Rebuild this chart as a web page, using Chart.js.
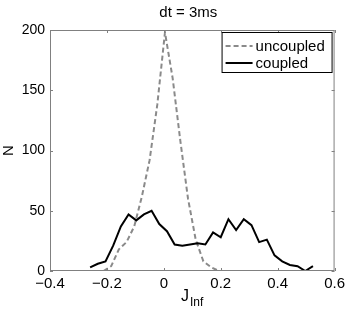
<!DOCTYPE html>
<html>
<head>
<meta charset="utf-8">
<script src="https://cdn.jsdelivr.net/npm/chart.js@4"></script>
<style>
html, body { margin: 0; padding: 0; background: #fff; }
#wrap { width: 349px; height: 312px; }
</style>
</head>
<body>
<div id="wrap"><canvas id="chart" width="349" height="312"></canvas></div>
<script>
// data
const titleText = 'dt = 3ms';
const seriesNames = ['uncoupled', 'coupled'];
const xTicks = [-0.4, -0.2, 0, 0.2, 0.4, 0.6];
const yTicks = [0, 50, 100, 150, 200];

const uncoupledJ = [-0.212, -0.185, -0.158, -0.131, -0.104, -0.077, -0.050, -0.023, 0.004,
                    0.031, 0.058, 0.085, 0.112, 0.139, 0.167, 0.194, 0.221];
const uncoupledN = [0, 4, 18, 24, 37, 62, 92, 138, 198, 160, 108, 60, 26, 8, 3, 0, 0];

const coupledJ = [-0.259, -0.232, -0.205, -0.178, -0.151, -0.124, -0.097, -0.070, -0.043, -0.016,
                  0.011, 0.038, 0.065, 0.092, 0.119, 0.146, 0.173, 0.200, 0.227, 0.254,
                  0.281, 0.308, 0.335, 0.362, 0.389, 0.416, 0.443, 0.470, 0.497, 0.524];
const coupledN = [3, 6, 8, 21, 37, 47, 42, 47, 50, 39,
                  33, 22, 21, 22, 23, 22, 32, 28, 43, 34,
                  43, 38, 24, 26, 13, 8, 5, 4, 0, 4];

const FONT = '"Liberation Sans", Arial, Helvetica, sans-serif';
const AXIS_COLOR = '#808080';

function toPoints(xs, ys) {
    return xs.map((x, i) => ({ x: x, y: ys[i] }));
}

function fmtX(v) {
    if (Math.abs(v) < 1e-9) return '0';
    const s = Math.abs(v).toFixed(1);
    return v < 0 ? '\u2212' + s : s;
}

// box, inward ticks, title, x label with subscript and the legend
const matlabLook = {
    id: 'matlabLook',
    afterDraw(chart) {
        const ctx = chart.ctx;
        const a = chart.chartArea;
        const xs = chart.scales.x;
        const ys = chart.scales.y;
        ctx.save();

        ctx.strokeStyle = AXIS_COLOR;
        ctx.lineWidth = 1;
        ctx.strokeRect(a.left + 0.5, a.top + 0.5, a.right - a.left - 1, a.bottom - a.top - 1);

        const tl = 3;
        ctx.beginPath();
        xTicks.forEach(v => {
            const px = Math.round(xs.getPixelForValue(v)) + 0.5;
            ctx.moveTo(px, a.bottom); ctx.lineTo(px, a.bottom - tl);
            ctx.moveTo(px, a.top); ctx.lineTo(px, a.top + tl);
        });
        yTicks.forEach(v => {
            const py = Math.round(ys.getPixelForValue(v)) + 0.5;
            ctx.moveTo(a.left, py); ctx.lineTo(a.left + tl, py);
            ctx.moveTo(a.right, py); ctx.lineTo(a.right - tl, py);
        });
        ctx.stroke();

        // title
        ctx.fillStyle = '#000';
        ctx.textAlign = 'center';
        ctx.textBaseline = 'middle';
        ctx.font = '15px ' + FONT;
        ctx.fillText(titleText, (a.left + a.right) / 2 - 4, 13);

        // x label J_Inf
        ctx.font = '16px ' + FONT;
        ctx.textAlign = 'right';
        ctx.fillText('J', 189, 297);
        ctx.font = '12px ' + FONT;
        ctx.textAlign = 'left';
        ctx.fillText('Inf', 190, 303);

        // legend
        const lx = a.right - 113, ly = a.top + 2, lw = 111, lh = 41;
        ctx.fillStyle = '#fff';
        ctx.fillRect(lx, ly, lw, lh);
        ctx.strokeStyle = '#000';
        ctx.lineWidth = 1;
        ctx.strokeRect(lx + 0.5, ly + 0.5, lw - 1, lh - 1);
        const rows = [ly + 14, ly + 31];
        chart.data.datasets.forEach((ds, i) => {
            ctx.strokeStyle = ds.borderColor;
            ctx.lineWidth = ds.borderWidth;
            ctx.setLineDash(ds.borderDash || []);
            ctx.beginPath();
            ctx.moveTo(lx + 4, rows[i]);
            ctx.lineTo(lx + 31, rows[i]);
            ctx.stroke();
            ctx.setLineDash([]);
            ctx.fillStyle = '#000';
            ctx.font = '15px ' + FONT;
            ctx.textAlign = 'left';
            ctx.textBaseline = 'middle';
            ctx.fillText(ds.label, lx + 34, rows[i] + 1);
        });
        ctx.restore();
    }
};

new Chart(document.getElementById('chart'), {
    type: 'line',
    data: {
        datasets: [
            {
                label: seriesNames[0],
                data: toPoints(uncoupledJ, uncoupledN),
                borderColor: '#8a8a8a',
                borderWidth: 2,
                borderDash: [5, 3],
                pointRadius: 0,
                tension: 0,
                order: 1
            },
            {
                label: seriesNames[1],
                data: toPoints(coupledJ, coupledN),
                borderColor: '#000',
                borderWidth: 2,
                pointRadius: 0,
                tension: 0,
                order: 0
            }
        ]
    },
    options: {
        responsive: false,
        animation: false,
        devicePixelRatio: 1,
        layout: { padding: { left: 0, right: 14, top: 30, bottom: 0 } },
        plugins: {
            legend: { display: false },
            title: { display: false },
            tooltip: { enabled: false }
        },
        scales: {
            x: {
                type: 'linear',
                min: -0.4,
                max: 0.6,
                afterBuildTicks: s => { s.ticks = xTicks.map(v => ({ value: v })); },
                afterFit: s => { s.height = 41; },
                grid: { display: false, drawTicks: false },
                border: { display: false },
                ticks: {
                    padding: 4,
                    color: '#000',
                    font: { family: FONT, size: 15 },
                    maxRotation: 0,
                    callback: v => fmtX(v)
                }
            },
            y: {
                type: 'linear',
                min: 0,
                max: 200,
                afterBuildTicks: s => { s.ticks = yTicks.map(v => ({ value: v })); },
                afterFit: s => { s.width = 50; },
                grid: { display: false, drawTicks: false },
                border: { display: false },
                title: {
                    display: true,
                    text: 'N',
                    color: '#000',
                    font: { family: FONT, size: 15 },
                    padding: 0
                },
                ticks: {
                    padding: 5,
                    color: '#000',
                    font: { family: FONT, size: 14 },
                    callback: v => String(v)
                }
            }
        }
    },
    plugins: [matlabLook]
});
</script>
</body>
</html>
